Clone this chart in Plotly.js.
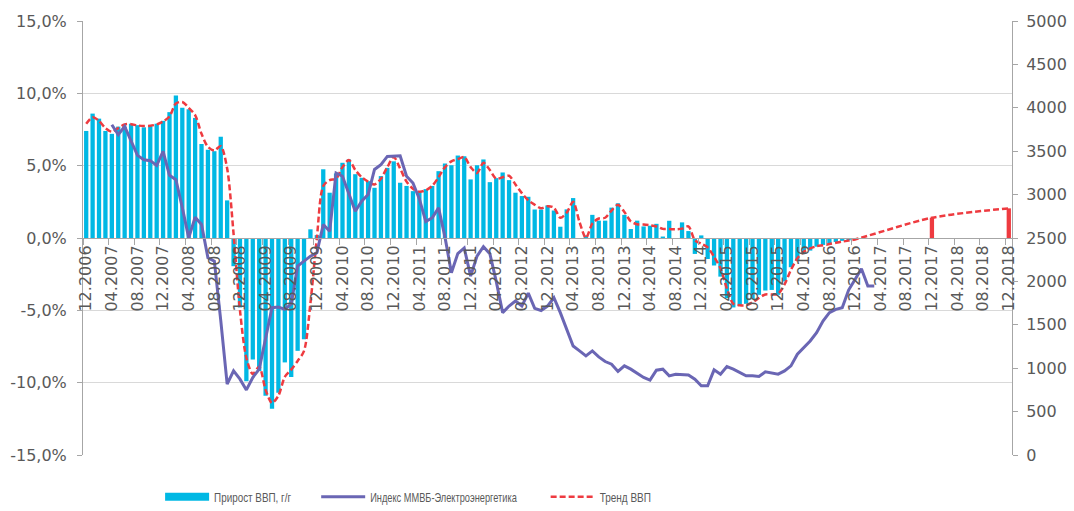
<!DOCTYPE html>
<html>
<head>
<meta charset="utf-8">
<script src="https://cdn.plot.ly/plotly-3.0.1.min.js"></script>
<style>
html,body{margin:0;padding:0;background:#fff;}
#chart{width:1074px;height:511px;}
/* condensed legend labels, as in the original */
#chart text.legendtext,#chart text.legend2text,#chart text.legend3text{transform-box:fill-box;transform-origin:0% 50%;}
#chart text.legendtext{transform:scaleX(0.79);}
#chart text.legend2text{transform:scaleX(0.74);}
#chart text.legend3text{transform:scaleX(0.8);}
</style>
</head>
<body>
<div id="chart"></div>
<script>
// ---- data ----
const startMonth = 12, startYear = 2006, monthCount = 145;   // 12.2006 .. 12.2018

const tickLabels = ['12.2006','04.2007','08.2007','12.2007','04.2008','08.2008','12.2008','04.2009','08.2009',
  '12.2009','04.2010','08.2010','12.2010','04.2011','08.2011','12.2011','04.2012','08.2012','12.2012',
  '04.2013','08.2013','12.2013','04.2014','08.2014','12.2014','04.2015','08.2015','12.2015','04.2016',
  '08.2016','12.2016','04.2017','08.2017','12.2017','04.2018','08.2018','12.2018'];

const yTickVals = [-15, -10, -5, 0, 5, 10, 15];
const yTickText = ['-15,0%', '-10,0%', '-5,0%', '0,0%', '5,0%', '10,0%', '15,0%'];

// GDP growth y/y, % (12.2006 .. 11.2016)
const gdpGrowth = [
  7.4, 8.6, 8.25, 7.4, 7.2, 7.7, 7.7, 7.9, 7.8, 7.65,
  7.8, 7.9, 8.1, 8.7, 9.85, 9.0, 8.9, 8.3, 6.5, 6.1,
  6.0, 7.0, 2.6, -1.95, -4.8, -9.9, -8.4, -9.2, -10.9, -11.8,
  -10.7, -8.6, -9.6, -7.8, -7.0, 0.6, 0.2, 4.75, 3.13, 4.46,
  5.2, 5.43, 4.41, 4.16, 3.93, 3.47, 4.28, 4.85, 5.3, 3.82,
  3.6, 3.24, 3.17, 3.38, 3.6, 4.62, 5.15, 5.03, 5.7, 5.65,
  4.05, 5.03, 5.43, 3.86, 4.14, 4.53, 4.0, 3.13, 2.9, 2.85,
  1.97, 1.97, 2.25, 1.9, 0.78, 1.98, 2.76, 0, 0.18, 1.6,
  1.2, 1.2, 2.1, 2.4, 1.6, 0.62, 1.2, 0.8, 0.85, 0.98,
  0.1, 1.19, 0, 1.08, 0.48, -1.1, 0.18, -1.45, -1.9, -2.67,
  -4.16, -4.8, -4.7, -4.55, -4.23, -3.93, -3.63, -3.59, -3.93, -3.0,
  -2.02, -1.56, -1.1, -0.87, -0.6, -0.48, -0.37, -0.28, -0.2, -0.16
];

// GDP forecast (red bars), %
const forecastMonths = ['12.2017', '12.2018'];
const forecastValues = [1.4, 2.05];

// GDP trend, % (12.2006 .. 12.2016), then continues to the forecast points
const gdpTrend = [
  7.9, 8.35, 8.1, 7.6, 7.35, 7.6, 7.85, 7.87, 7.78, 7.74,
  7.76, 7.85, 8.05, 8.4, 9.3, 9.4, 9.0, 8.5, 7.2, 6.3,
  6.05, 6.35, 4.8, 0.3, -5.0, -8.3, -9.4, -8.9, -10.5, -11.4,
  -10.9, -9.6, -9.1, -8.5, -7.8, -4.5, 0.0, 3.6, 4.0, 4.1,
  4.9, 5.4, 4.7, 4.2, 3.9, 3.7, 4.1, 4.9, 5.6, 4.8,
  3.9, 3.4, 3.2, 3.3, 3.6, 4.2, 4.9, 5.3, 5.45, 5.6,
  4.9, 4.5, 5.2, 4.7, 4.1, 4.2, 4.3, 3.7, 3.1, 2.6,
  2.3, 2.05, 2.2, 2.1, 1.4, 1.75, 2.5, 1.1, 0.0, 1.0,
  1.35, 1.4, 1.9, 2.3, 1.8, 1.15, 0.95, 0.93, 0.88, 0.8,
  0.63, 0.62, 0.6, 0.65, 0.8, -0.15, -0.4, -0.65, -1.3, -2.1,
  -3.5, -4.55, -4.65, -4.65, -4.45, -4.15, -3.9, -3.9, -3.85, -3.2,
  -2.2, -1.4, -0.95, -0.72, -0.57, -0.5, -0.42, -0.33, -0.25, -0.18, -0.1
];

// MICEX Power index (right axis), 04.2007 .. 03.2017
const indexStart = '04.2007';
const micexPower = [
  3805, 3690, 3785, 3610, 3452, 3402, 3391, 3337, 3498, 3222,
  3172, 2850, 2502, 2739, 2655, 2272, 2233, 1550, 816, 969,
  874, 750, 893, 989, 1345, 1697, 1705, 1678, 1740, 2176,
  2233, 2291, 2330, 2655, 2578, 3249, 3211, 3000, 2808, 2923,
  3000, 3290, 3345, 3440, 3448, 3448, 3211, 3134, 2950, 2690,
  2732, 2847, 2510, 2100, 2320, 2385, 2061, 2291, 2400, 2320,
  2000, 1640, 1716, 1774, 1716, 1865, 1690, 1665, 1716, 1812,
  1640, 1440, 1256, 1199, 1141, 1199, 1130, 1077, 1046, 962,
  1027, 989, 939, 893, 862, 977, 989, 912, 931, 931,
  923, 874, 797, 797, 981, 931, 1019, 989, 951, 912,
  912, 904, 958, 943, 931, 969, 1027, 1161, 1238, 1314,
  1410, 1544, 1640, 1678, 1697, 1900, 2023, 2146, 1946, 1946
];

const names = ['Прирост ВВП, г/г', 'Индекс ММВБ-Электроэнергетика', 'Тренд ВВП'];

// ---- build categories ----
const months = [];
for (let k = 0; k < monthCount; k++) {
  const m = (startMonth - 1 + k) % 12 + 1;
  const y = startYear + Math.floor((startMonth - 1 + k) / 12);
  months.push(String(m).padStart(2, '0') + '.' + y);
}
const gdpX = months.slice(0, gdpGrowth.length);
const idx0 = months.indexOf(indexStart);
const indexX = months.slice(idx0, idx0 + micexPower.length);

// trend: monthly part + forecast points, gaps connected
const trendX = months.slice();
const trendY = months.map((m, i) => i < gdpTrend.length ? gdpTrend[i] : null);
forecastMonths.forEach((m, j) => { trendY[months.indexOf(m)] = forecastValues[j]; });

const tickFont = {family: 'DejaVu Sans, sans-serif', size: 16, color: '#595959'};
const legFont = {family: "'Liberation Sans', Arial, sans-serif", size: 12.5, color: '#595959'};
const gray = '#A6A6A6';

const traces = [
  {type: 'bar', x: gdpX, y: gdpGrowth, name: names[0], marker: {color: '#00B8E4', line: {width: 0}},
   legend: 'legend'},
  {type: 'bar', x: forecastMonths, y: forecastValues, name: 'Прогноз', showlegend: false,
   marker: {color: '#EE3B40', line: {width: 0}}},
  {type: 'scatter', mode: 'lines', x: indexX, y: micexPower, yaxis: 'y2', name: names[1],
   line: {color: '#6A66B4', width: 3}, legend: 'legend2'},
  {type: 'scatter', mode: 'lines', x: trendX, y: trendY, name: names[2], connectgaps: true,
   line: {color: '#EE3B40', width: 2.5, dash: '6px,3px', shape: 'spline', smoothing: 0.8}, legend: 'legend3'}
];

const legBase = {y: -0.097, yanchor: 'middle', xanchor: 'left', font: legFont, itemwidth: 44,
  bgcolor: 'rgba(0,0,0,0)', borderwidth: 0};

const layout = {
  width: 1074, height: 511,
  margin: {l: 83, r: 62, t: 21, b: 56, pad: 0, autoexpand: false},
  paper_bgcolor: '#ffffff', plot_bgcolor: '#ffffff',
  barmode: 'overlay', bargap: 0.33,
  showlegend: true,
  xaxis: {type: 'category', categoryorder: 'array', categoryarray: months, range: [-0.5, monthCount - 0.5],
    tickmode: 'array', tickvals: tickLabels, ticktext: tickLabels, tickangle: -90, tickson: 'boundaries',
    ticks: 'outside', ticklen: 6, tickcolor: gray, showline: true, linecolor: gray, linewidth: 1,
    showgrid: false, zeroline: false, anchor: 'free', position: 0.5, tickfont: tickFont, fixedrange: true,
    automargin: false},
  yaxis: {range: [-15, 15], tickmode: 'array', tickvals: yTickVals, ticktext: yTickText,
    showgrid: true, gridcolor: '#D9D9D9', gridwidth: 1, zeroline: false, showline: true, linecolor: gray,
    ticks: 'outside', ticklen: 5, tickcolor: gray, tickfont: tickFont, fixedrange: true,
    ticklabelstandoff: 7, automargin: false},
  yaxis2: {overlaying: 'y', side: 'right', range: [0, 5000], tick0: 0, dtick: 500,
    showgrid: false, zeroline: false, showline: true, linecolor: gray,
    ticks: 'outside', ticklen: 5, tickcolor: gray, tickfont: tickFont, fixedrange: true,
    ticklabelstandoff: 5, automargin: false},
  legend: Object.assign({x: 0.083}, legBase),
  legend2: Object.assign({x: 0.251}, legBase),
  legend3: Object.assign({x: 0.498}, legBase)
};

// wide, flat swatch for the bar series, as in the original legend
function styleLegendSwatch() {
  document.querySelectorAll('#chart g.legendpoints path').forEach(function (p) {
    const d = (p.getAttribute('d') || '').replace(/\s/g, '');
    if (d === 'M6,6H-6V-6H6Z') p.setAttribute('d', 'M22,4H-22V-4H22Z');
  });
}

Plotly.newPlot('chart', traces, layout, {displayModeBar: false, staticPlot: true}).then(function (gd) {
  styleLegendSwatch();
  gd.on('plotly_afterplot', styleLegendSwatch);
  setTimeout(styleLegendSwatch, 0);
  setTimeout(styleLegendSwatch, 100);
});
</script>
</body>
</html>
